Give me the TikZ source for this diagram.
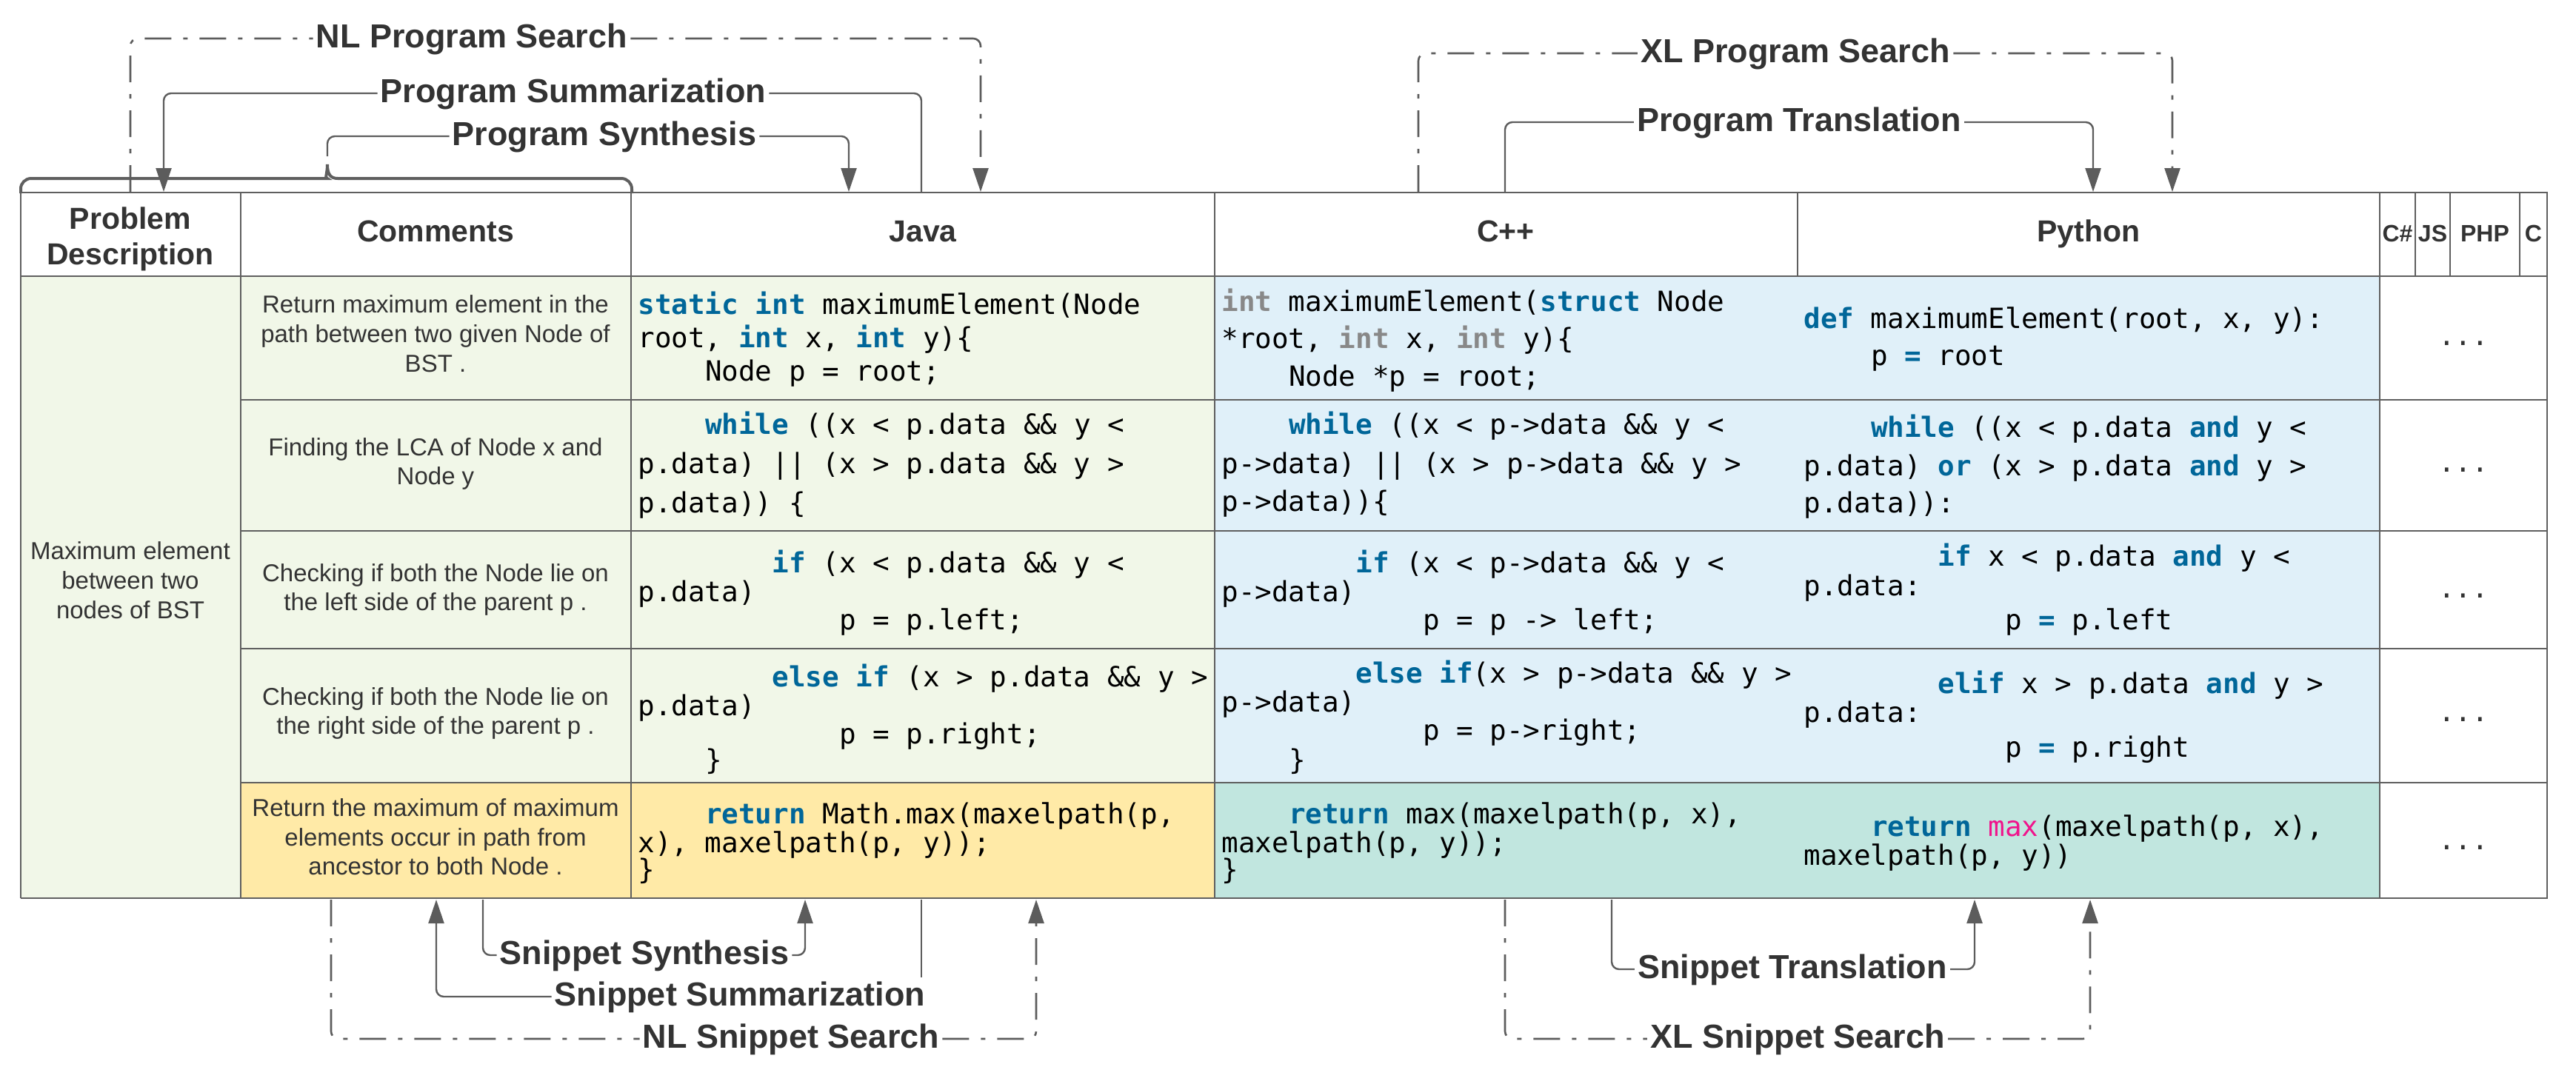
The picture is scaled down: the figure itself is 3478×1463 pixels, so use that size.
\documentclass[tikz,border=0pt]{standalone}
\usepackage{fontspec}
\setmainfont{Liberation Sans}
\newfontfamily\codefont{DejaVu Sans Mono}
\usetikzlibrary{arrows.meta}
\definecolor{cgreen}{HTML}{F1F7E8}
\definecolor{cblue}{HTML}{E0F0F9}
\definecolor{cyellow}{HTML}{FFEAA7}
\definecolor{cteal}{HTML}{C1E6DF}
\definecolor{gline}{HTML}{5F5F5F}
\definecolor{gconn}{HTML}{5C5C5C}
\definecolor{txt}{HTML}{333333}
\definecolor{kwblue}{HTML}{006699}
\definecolor{tgray}{HTML}{888888}
\definecolor{cmag}{HTML}{F0148C}
\newcommand\kw[1]{\textcolor{kwblue}{\bfseries #1}}
\newcommand\tyg[1]{\textcolor{tgray}{\bfseries #1}}
\newcommand\mgt[1]{\textcolor{cmag}{#1}}
\tikzset{
  hdr/.style={anchor=base, inner sep=0pt, text=txt, font=\fontsize{20.5pt}{24pt}\selectfont\bfseries},
  subhdr/.style={anchor=base, inner sep=0pt, text=txt, font=\fontsize{16pt}{19pt}\selectfont\bfseries},
  cmt/.style={anchor=base, inner sep=0pt, text=txt, font=\fontsize{16.5pt}{20pt}\selectfont},
  code/.style={anchor=base west, inner sep=0pt, text=black, font=\codefont\fontsize{18.8pt}{22pt}\selectfont},
  dots/.style={anchor=base, inner sep=0pt, text=txt, font=\codefont\fontsize{18.8pt}{22pt}\selectfont},
  lbl/.style={text=txt, font=\fontsize{22.5pt}{26pt}\selectfont\bfseries, inner xsep=2pt, inner ysep=0pt, text height=13pt, text depth=1pt},
  conn/.style={draw=gconn, line width=1.2pt, rounded corners=5pt},
  arr/.style={-{Triangle[length=16pt,width=10.5pt]}},
  dd/.style={dash pattern=on 18pt off 8pt on 3pt off 8pt, line width=1.3pt},
  hline/.style={draw=gline, line width=1.1pt},
  vline/.style={draw=gline, line width=0.7pt},
  bracestyle/.style={draw=gline, line width=2pt}
}
\begin{document}
\begin{tikzpicture}[x=0.5pt,y=-0.5pt]
\useasboundingbox (0,0) rectangle (3478,1463);
% ---------- cell fills ----------
\fill[white] (28,260) rectangle (3439,373);
\fill[cgreen] (28,373) rectangle (325,1213);
\fill[cgreen] (325,373) rectangle (1640,1057);
\fill[cblue] (1640,373) rectangle (3213,1057);
\fill[cyellow] (325,1057) rectangle (1640,1213);
\fill[cteal] (1640,1057) rectangle (3213,1213);
\fill[white] (3213,373) rectangle (3439,1213);
% ---------- grid lines ----------
\foreach \xx in {28,325,852,1640,3213,3439} \draw[vline] (\xx,260) -- (\xx,1213);
\foreach \xx in {2427,3261,3308,3402} \draw[vline] (\xx,260) -- (\xx,373);
\draw[hline] (27.5,260) -- (3439.5,260);
\draw[hline] (27.5,373) -- (3439.5,373);
\foreach \yy in {540,717,876,1057} \draw[hline] (325,\yy) -- (3439.5,\yy);
\draw[hline] (27.5,1213) -- (3439.5,1213);
% ---------- header ----------
\node[hdr] (hPD1) at (176,309) {Problem};
\node[hdr] (hPD2) at (176,357) {Description};
\node[hdr] (hCom) at (588,326) {Comments};
\node[hdr] (hJava) at (1246,326) {Java};
\node[hdr] (hCpp) at (2033,326) {C++};
\node[hdr] (hPy) at (2820,326) {Python};
\node[subhdr] (hCs) at (3237,326) {C\#};
\node[subhdr] (hJS) at (3284.5,326) {JS};
\node[subhdr] (hPHP) at (3355,326) {PHP};
\node[subhdr] (hC) at (3420.5,326) {C};
% ---------- problem description ----------
\node[cmt] (pd1) at (176,755) {Maximum element};
\node[cmt] (pd2) at (176,795) {between two};
\node[cmt] (pd3) at (176,835) {nodes of BST};
% ---------- comments ----------
\node[cmt] (m1a) at (588,422) {Return maximum element in the};
\node[cmt] (m1b) at (588,462) {path between two given Node of};
\node[cmt] (m1c) at (588,502) {BST .};
\node[cmt] (m2a) at (588,615) {Finding the LCA of Node x and};
\node[cmt] (m2b) at (588,654) {Node y};
\node[cmt] (m3a) at (588,785) {Checking if both the Node lie on};
\node[cmt] (m3b) at (588,824) {the left side of the parent p .};
\node[cmt] (m4a) at (588,952) {Checking if both the Node lie on};
\node[cmt] (m4b) at (588,991) {the right side of the parent p .};
\node[cmt] (m5a) at (588,1102) {Return the maximum of maximum};
\node[cmt] (m5b) at (588,1142) {elements occur in path from};
\node[cmt] (m5c) at (588,1181) {ancestor to both Node .};
% ---------- Java ----------
\node[code] (j1a) at (861,424) {\kw{static} \kw{int} maximumElement(Node};
\node[code] (j1b) at (861,469) {root, \kw{int} x, \kw{int} y)\{};
\node[code] (j1c) at (951.6,514) {Node p = root;};
\node[code] (j2a) at (951.6,586) {\kw{while} ((x < p.data \&\& y <};
\node[code] (j2b) at (861,639) {p.data) || (x > p.data \&\& y >};
\node[code] (j2c) at (861,692) {p.data)) \{};
\node[code] (j3a) at (1042.1,773) {\kw{if} (x < p.data \&\& y <};
\node[code] (j3b) at (861,812) {p.data)};
\node[code] (j3c) at (1132.7,850) {p = p.left;};
\node[code] (j4a) at (1042.1,927) {\kw{else} \kw{if} (x > p.data \&\& y >};
\node[code] (j4b) at (861,966) {p.data)};
\node[code] (j4c) at (1132.7,1004) {p = p.right;};
\node[code] (j4d) at (951.6,1039) {\}};
\node[code] (j5a) at (951.6,1112) {\kw{return} Math.max(maxelpath(p,};
\node[code] (j5b) at (861,1151) {x), maxelpath(p, y));};
\node[code] (j5c) at (861,1187) {\}};
% ---------- C++ ----------
\node[code] (c1a) at (1649,420) {\tyg{int} maximumElement(\kw{struct} Node};
\node[code] (c1b) at (1649,470) {*root, \tyg{int} x, \tyg{int} y)\{};
\node[code] (c1c) at (1739.6,521) {Node *p = root;};
\node[code] (c2a) at (1739.6,586) {\kw{while} ((x < p->data \&\& y <};
\node[code] (c2b) at (1649,639) {p->data) || (x > p->data \&\& y >};
\node[code] (c2c) at (1649,690) {p->data))\{};
\node[code] (c3a) at (1830.1,773) {\kw{if} (x < p->data \&\& y <};
\node[code] (c3b) at (1649,812) {p->data)};
\node[code] (c3c) at (1920.7,850) {p = p -> left;};
\node[code] (c4a) at (1830.1,922) {\kw{else} \kw{if}(x > p->data \&\& y >};
\node[code] (c4b) at (1649,961) {p->data)};
\node[code] (c4c) at (1920.7,999) {p = p->right;};
\node[code] (c4d) at (1739.6,1039) {\}};
\node[code] (c5a) at (1739.6,1112) {\kw{return} max(maxelpath(p, x),};
\node[code] (c5b) at (1649,1151) {maxelpath(p, y));};
\node[code] (c5c) at (1649,1187) {\}};
% ---------- Python ----------
\node[code] (p1a) at (2435,443) {\kw{def} maximumElement(root, x, y):};
\node[code] (p1b) at (2525.6,493) {p \kw{=} root};
\node[code] (p2a) at (2525.6,590) {\kw{while} ((x < p.data \kw{and} y <};
\node[code] (p2b) at (2435,642) {p.data) \kw{or} (x > p.data \kw{and} y >};
\node[code] (p2c) at (2435,692) {p.data)):};
\node[code] (p3a) at (2616.1,764) {\kw{if} x < p.data \kw{and} y <};
\node[code] (p3b) at (2435,804) {p.data:};
\node[code] (p3c) at (2706.7,850) {p \kw{=} p.left};
\node[code] (p4a) at (2616.1,936) {\kw{elif} x > p.data \kw{and} y >};
\node[code] (p4b) at (2435,975) {p.data:};
\node[code] (p4c) at (2706.7,1022) {p \kw{=} p.right};
\node[code] (p5a) at (2525.6,1129) {\kw{return} \mgt{max}(maxelpath(p, x),};
\node[code] (p5b) at (2435,1168) {maxelpath(p, y))};
% ---------- other languages ----------
\node[dots] (d1) at (3326,466) {...};
\node[dots] (d2) at (3326,637) {...};
\node[dots] (d3) at (3326,807) {...};
\node[dots] (d4) at (3326,974) {...};
\node[dots] (d5) at (3326,1147) {...};
% ---------- brace over Problem Description + Comments ----------
\draw[bracestyle] (28,261) [rounded corners=7pt] -- (28,241) -- (428,241) [sharp corners]
  .. controls (438,241) and (442,235) .. (442,222)
  .. controls (442,235) and (446,241) .. (456,241)
  [rounded corners=7pt] -- (853,241) -- (853,261);
% ---------- labels ----------
\node[lbl] (lNLP) at (637,52) {NL Program Search};
\node[lbl] (lSum) at (774,126) {Program Summarization};
\node[lbl] (lSyn) at (816,184) {Program Synthesis};
\node[lbl] (lXLP) at (2424,72) {XL Program Search};
\node[lbl] (lTr) at (2429,165) {Program Translation};
\node[lbl] (lSSyn) at (870,1290) {Snippet Synthesis};
\node[lbl] (lSSum) at (999,1346) {Snippet Summarization};
\node[lbl] (lNLS) at (1068,1403) {NL Snippet Search};
\node[lbl] (lSTr) at (2420,1309) {Snippet Translation};
\node[lbl] (lXLS) at (2427,1403) {XL Snippet Search};
% ---------- connector end points ----------
\coordinate (nlpS) at (176,259);  \coordinate (nlpE) at (1324,259);
\coordinate (sumS) at (1244,259); \coordinate (sumE) at (221,259);
\coordinate (synS) at (442,211);  \coordinate (synE) at (1146,259);
\coordinate (xlpS) at (1915,259); \coordinate (xlpE) at (2933,259);
\coordinate (trS) at (2032,259);  \coordinate (trE) at (2826,259);
\coordinate (nlsS) at (447,1215); \coordinate (nlsE) at (1399,1215);
\coordinate (ssumS) at (1244,1215); \coordinate (ssumE) at (589,1215);
\coordinate (ssynS) at (652,1215); \coordinate (ssynE) at (1087,1215);
\coordinate (xlsS) at (2032,1215); \coordinate (xlsE) at (2822,1215);
\coordinate (strS) at (2176,1215); \coordinate (strE) at (2666,1215);
% ---------- connectors ----------
\draw[conn,dd,arr] (nlpS) |- (lNLP) -| (nlpE);
\draw[conn,arr] (sumS) |- (lSum) -| (sumE);
\draw[conn,arr] (synS) |- (lSyn) -| (synE);
\draw[conn,dd,arr] (xlpS) |- (lXLP) -| (xlpE);
\draw[conn,arr] (trS) |- (lTr) -| (trE);
\draw[conn,dd,arr] (nlsS) |- (lNLS) -| (nlsE);
\draw[conn] (ssumS) -- ([yshift=6pt]ssumS |- lSSum.north);
\draw[conn,arr] (lSSum) -| (ssumE);
\draw[conn,arr] (ssynS) |- (lSSyn) -| (ssynE);
\draw[conn,dd,arr] (xlsS) |- (lXLS) -| (xlsE);
\draw[conn,arr] (strS) |- (lSTr) -| (strE);
\end{tikzpicture}
\end{document}
